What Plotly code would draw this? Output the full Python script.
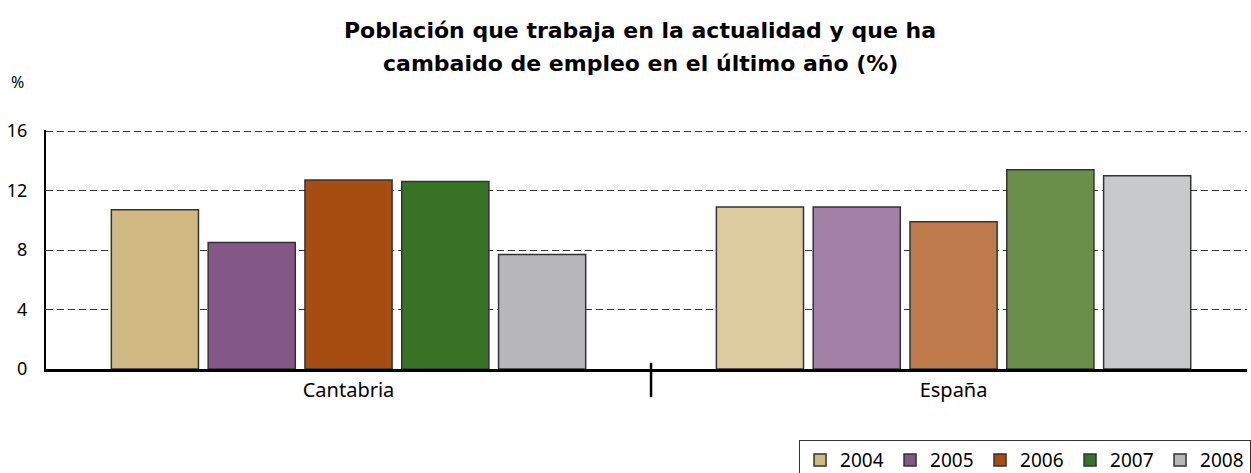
import plotly.graph_objects as go

categories = ["Cantabria", "España"]
years = ["2004", "2005", "2006", "2007", "2008"]
values = {
    "2004": [10.7, 10.9],
    "2005": [8.5, 10.9],
    "2006": [12.7, 9.9],
    "2007": [12.6, 13.4],
    "2008": [7.7, 13.0],
}
colors = {
    "2004": ["#D0B982", "#DDCBA0"],
    "2005": ["#835887", "#A380A6"],
    "2006": ["#A84D12", "#BF7A4C"],
    "2007": ["#387224", "#6A8F4B"],
    "2008": ["#B7B7B9", "#C8C9CB"],
}
title_lines = ["Población que trabaja en la actualidad y que ha",
               "cambaido de empleo en el último año (%)"]
y_ticks = [0, 4, 8, 12, 16]

FONT = "Noto Sans"

fig = go.Figure()
for y in years:
    fig.add_trace(go.Bar(
        name=y, x=categories, y=values[y],
        marker=dict(color=colors[y], line=dict(color="#333333", width=1.5)),
    ))

fig.update_layout(
    width=1251, height=473,
    margin=dict(l=46, r=4, t=130, b=104, autoexpand=False),
    paper_bgcolor="white", plot_bgcolor="white",
    barmode="group", bargap=0.2, bargroupgap=0.1,
    font=dict(family=FONT, size=18, color="black"),
    showlegend=True,
    legend=dict(
        orientation="h", xanchor="left", x=0.627, yanchor="top", y=-0.298,
        bordercolor="#333333", borderwidth=1, bgcolor="white",
        font=dict(family=FONT, size=19, color="black"),
        entrywidth=45, entrywidthmode="pixels", traceorder="normal",
    ),
    xaxis=dict(
        type="category", range=[-0.5, 1.485], automargin=False,
        showline=True, linecolor="black", linewidth=3,
        ticks="", showgrid=False, ticklabelstandoff=1,
        tickfont=dict(family=FONT, size=20, color="black"),
    ),
    yaxis=dict(
        range=[0, 16.07], tickvals=y_ticks, ticktext=[str(v) for v in y_ticks],
        automargin=False,
        showline=True, linecolor="black", linewidth=2,
        showgrid=True, gridcolor="#333333", gridwidth=1, griddash="7px,4px",
        zeroline=False, ticks="", ticklabelstandoff=13,
        tickfont=dict(family=FONT, size=18, color="black"),
    ),
    shapes=[dict(type="line", xref="x", yref="paper", x0=0.5, x1=0.5,
                 y0=-0.118, y1=0.026, line=dict(color="black", width=2.5))],
    annotations=[
        dict(text="<b>" + title_lines[0] + "</b>", xref="paper", yref="paper",
             x=0.495, y=1.415, xanchor="center", yanchor="middle", showarrow=False,
             font=dict(family="DejaVu Sans", size=22, color="black")),
        dict(text="<b>" + title_lines[1] + "</b>", xref="paper", yref="paper",
             x=0.495, y=1.277, xanchor="center", yanchor="middle", showarrow=False,
             font=dict(family="DejaVu Sans", size=22, color="black")),
        dict(text="%", xref="paper", yref="paper", x=-0.024, y=1.20,
             xanchor="center", yanchor="middle", showarrow=False,
             font=dict(family=FONT, size=16, color="black")),
    ],
)

fig.write_html(
    "out.html",
    config={"displayModeBar": False},
    post_script="document.body.style.margin='0';document.body.style.padding='0';"
                "document.body.style.overflow='hidden';",
)
